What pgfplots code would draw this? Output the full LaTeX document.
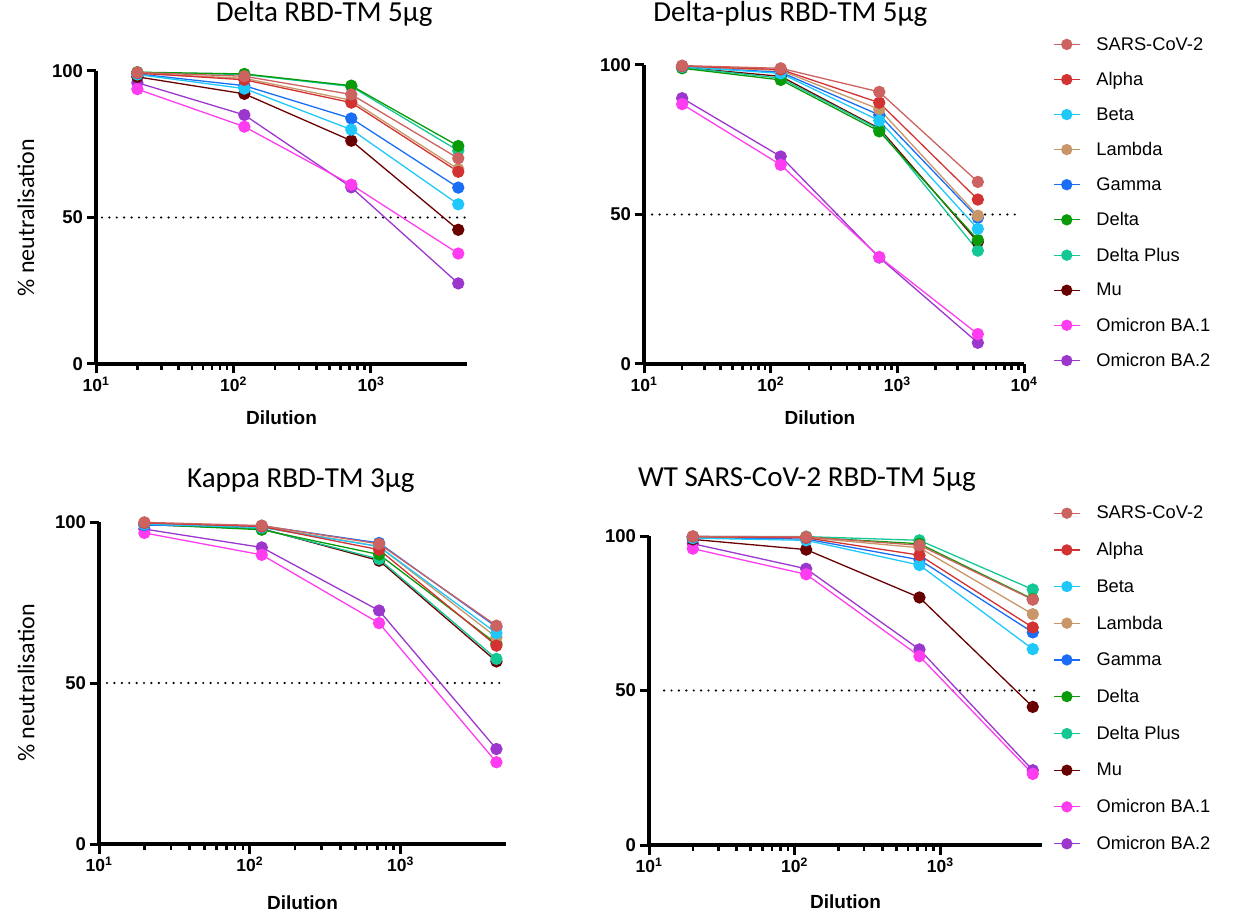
\documentclass[border=0pt]{standalone}
\usepackage{pgfplots}
\pgfplotsset{compat=1.18}
\usepackage{pgfplotstable}
\usepackage{fontspec}
\setmainfont{Liberation Sans}
\newfontfamily\titlefont{Carlito}

\definecolor{csars}{RGB}{205,99,96}
\definecolor{calpha}{RGB}{210,50,50}
\definecolor{cbeta}{RGB}{30,200,250}
\definecolor{clambda}{RGB}{200,150,105}
\definecolor{cgamma}{RGB}{25,110,245}
\definecolor{cdelta}{RGB}{10,155,10}
\definecolor{cdplus}{RGB}{20,200,150}
\definecolor{cmu}{RGB}{105,0,0}
\definecolor{cba1}{RGB}{255,60,240}
\definecolor{cba2}{RGB}{155,55,205}

\pgfplotstableread{
x sars alpha beta lambda gamma delta dplus mu ba1 ba2
20 99.5 99.3 98.8 99.2 99.0 99.6 99.5 98.0 93.8 96.0
120 98.2 97.0 94.0 97.5 95.0 99.0 98.8 92.2 81.0 85.0
720 92.0 89.2 80.0 90.0 83.8 95.0 94.7 76.2 61.2 60.3
4320 70.2 65.6 54.5 66.5 60.2 74.4 72.8 45.8 37.7 27.5
}\tabA
\pgfplotstableread{
x sars alpha beta lambda gamma delta dplus mu ba1 ba2
20 99.8 99.6 99.4 99.5 99.4 98.9 99.2 99.2 86.9 88.9
120 98.9 98.5 97.2 98.2 97.6 95.0 95.6 96.2 66.6 69.4
720 91.0 87.4 81.4 85.2 83.3 77.8 78.5 78.8 35.8 35.6
4320 60.9 55.0 45.2 49.6 48.9 41.5 37.9 40.8 10.0 7.1
}\tabB
\pgfplotstableread{
x sars alpha beta lambda gamma delta dplus mu ba1 ba2
20 99.9 99.7 99.3 99.6 99.0 99.3 99.4 99.2 96.6 97.8
120 98.9 98.6 98.3 98.6 98.8 97.6 97.8 97.9 89.8 92.1
720 93.2 91.4 92.4 92.4 93.5 89.9 88.5 88.0 68.6 72.5
4320 67.8 61.6 65.5 64.2 67.4 62.2 57.5 56.7 25.4 29.5
}\tabC
\pgfplotstableread{
x sars alpha beta lambda gamma delta dplus mu ba1 ba2
20 99.9 99.8 99.3 99.7 99.5 99.7 99.8 98.9 95.9 97.5
120 99.7 99.4 98.6 99.5 99.0 99.6 99.8 95.6 87.6 89.4
720 97.0 93.8 90.6 96.2 92.3 97.5 98.6 80.1 61.1 63.3
4320 79.4 70.4 63.4 74.7 68.8 79.6 82.7 44.7 23.0 24.2
}\tabD

\pgfplotsset{
  ser/.style={color=#1, mark=*, mark size=5.5pt, line width=1.3pt, mark options={solid, fill=#1, draw=#1}},
  legend image code/.code={\draw[mark repeat=2,mark phase=2,#1, mark size=5pt] plot coordinates {(0pt,0pt) (13pt,0pt) (26pt,0pt)};},
  mypanelstyle/.style={
    scale only axis, ymin=0, ymax=100, ytick={0,50,100},
    axis x line*=bottom, axis y line*=left,
    axis line style={-, line width=3.2pt, black},
    every outer x axis line/.append style={-, line width=3.2pt, black},
    every outer y axis line/.append style={-, line width=3.2pt, black},
    tick align=outside, major tick length=9.5pt, minor tick length=6pt,
    every tick/.append style={line width=3pt, black},
    every major tick/.append style={line width=3pt, black},
    every minor tick/.append style={line width=2.6pt, black},
    /pgf/number format/assume math mode=true,
    yticklabel style={font=\fontsize{18.5}{18.5}\selectfont\bfseries},
    xticklabel style={font=\fontsize{17.5}{17.5}\selectfont\bfseries},
    ytick pos=left, xtick pos=bottom,
    clip=false,
    title style={font=\titlefont\fontsize{29}{29}\selectfont, anchor=base},
    xlabel style={font=\fontsize{19}{19}\selectfont\bfseries, anchor=center},
    ylabel style={font=\titlefont\fontsize{24}{24}\selectfont, anchor=center},
    legend cell align=left, reverse legend,
  },
  mylegend/.style n args={3}{legend style={at={(axis description cs:#1,#2)}, anchor=north west, draw=none, fill=none,
    font=\fontsize{18.3}{20}\selectfont, row sep=#3, column sep=14pt, inner sep=0pt,
    nodes={inner sep=2pt}},
    legend entries={Omicron BA.2, Omicron BA.1, Mu, Delta Plus, Delta, Gamma, Lambda, Beta, Alpha, SARS-CoV-2}},
}

\newcommand\allseries[1]{%
  \addplot[ser=cba2] table[x=x,y=ba2]{#1};
  \addplot[ser=cba1] table[x=x,y=ba1]{#1};
  \addplot[ser=cmu] table[x=x,y=mu]{#1};
  \addplot[ser=cdplus] table[x=x,y=dplus]{#1};
  \addplot[ser=cdelta] table[x=x,y=delta]{#1};
  \addplot[ser=cgamma] table[x=x,y=gamma]{#1};
  \addplot[ser=clambda] table[x=x,y=lambda]{#1};
  \addplot[ser=cbeta] table[x=x,y=beta]{#1};
  \addplot[ser=calpha] table[x=x,y=alpha]{#1};
  \addplot[ser=csars] table[x=x,y=sars]{#1};
}
\newcommand\dotline[2]{\addplot[black, line width=2.4pt, line cap=round, dash pattern=on 0pt off 7.4pt, forget plot] coordinates {(#1,50) (#2,50)};}

\begin{document}
\begin{tikzpicture}
\useasboundingbox (0,0) rectangle (1238pt,916pt);

% Panel 1
\begin{semilogxaxis}[mypanelstyle, at={(96pt,552pt)}, anchor=south west, width=371pt, height=293pt,
  xmin=10, xmax=5000, xtick={10,100,1000},
  xticklabels={10\textsuperscript{1},10\textsuperscript{2},10\textsuperscript{3}},
  title={Delta RBD-TM 5μg}, title style={at={(axis description cs:0.615,1.147)}},
  xlabel={Dilution}, xlabel style={at={(axis description cs:0.5,-0.184)}},
  ylabel={\% neutralisation}, ylabel style={at={(axis description cs:-0.189,0.5)}}]
\dotline{11.05}{5000}
\allseries{\tabA}
\end{semilogxaxis}

% Panel 2
\begin{semilogxaxis}[mypanelstyle, mylegend={1.076}{1.10}{16.6pt}, at={(644pt,552pt)}, anchor=south west, width=380pt, height=299pt,
  xmin=10, xmax=10000, xtick={10,100,1000,10000},
  xticklabels={10\textsuperscript{1},10\textsuperscript{2},10\textsuperscript{3},10\textsuperscript{4}},
  title={Delta-plus RBD-TM 5μg}, title style={at={(axis description cs:0.385,1.124)}},
  xlabel={Dilution}, xlabel style={at={(axis description cs:0.463,-0.18)}}]
\dotline{11.6}{9270}
\allseries{\tabB}
\end{semilogxaxis}

% Panel 3
\begin{semilogxaxis}[mypanelstyle, at={(99pt,72pt)}, anchor=south west, width=407pt, height=322pt,
  xmin=10, xmax=5000, xtick={10,100,1000},
  xticklabels={10\textsuperscript{1},10\textsuperscript{2},10\textsuperscript{3}},
  title={Kappa RBD-TM 3μg}, title style={at={(axis description cs:0.496,1.087)}},
  xlabel={Dilution}, xlabel style={at={(axis description cs:0.5,-0.183)}},
  ylabel={\% neutralisation}, ylabel style={at={(axis description cs:-0.179,0.5)}}]
\dotline{11.3}{4530}
\allseries{\tabC}
\end{semilogxaxis}

% Panel 4
\begin{semilogxaxis}[mypanelstyle, mylegend={1.028}{1.104}{18.2pt}, at={(649pt,71pt)}, anchor=south west, width=393pt, height=309pt,
  xmin=10, xmax=5000, xtick={10,100,1000},
  xticklabels={10\textsuperscript{1},10\textsuperscript{2},10\textsuperscript{3}},
  title={WT SARS-CoV-2 RBD-TM 5μg}, title style={at={(axis description cs:0.402,1.142)}},
  xlabel={Dilution}, xlabel style={at={(axis description cs:0.5,-0.184)}}]
\dotline{12.7}{4475}
\allseries{\tabD}
\end{semilogxaxis}
\end{tikzpicture}
\end{document}
